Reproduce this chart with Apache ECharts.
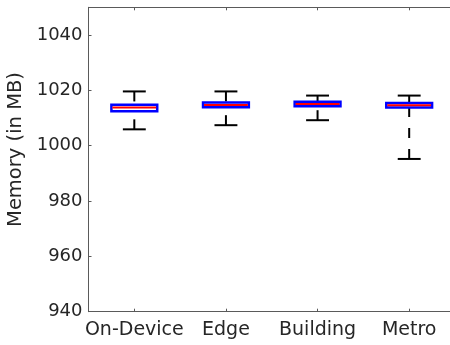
<!DOCTYPE html>
<html>
<head>
<meta charset="utf-8">
<script src="https://cdn.jsdelivr.net/npm/echarts@6/dist/echarts.min.js"></script>
<style>
  html, body { margin: 0; padding: 0; background: #ffffff; }
  #chart { width: 450px; height: 345px; }
</style>
</head>
<body>
<div id="chart"></div>
<script>
// Memory usage per deployment (MB): box plot statistics
const categories = ['On-Device', 'Edge', 'Building', 'Metro'];
const lowerWhisker = [1005.9, 1007.4, 1009.2, 995.2];
const q1 = [1012.4, 1013.9, 1014.2, 1013.8];
const median = [1013.8, 1014.7, 1015.1, 1014.6];
const q3 = [1014.8, 1015.6, 1015.9, 1015.4];
const upperWhisker = [1019.6, 1019.6, 1018.1, 1018.1];
const yTicks = { min: 940, max: 1050, interval: 20 };

const textColor = '#262626';
const axisColor = '#5a5a5a';
const font = 'DejaVu Sans';

const boxData = categories.map((c, i) =>
  [i, lowerWhisker[i], q1[i], median[i], q3[i], upperWhisker[i]]);

function renderBox(params, api) {
  const idx = api.value(0);
  const band = api.size([1, 0])[0];
  const halfBox = band * 0.25;
  const halfCap = band * 0.125;
  const pLo = api.coord([idx, api.value(1)]);
  const pQ1 = api.coord([idx, api.value(2)]);
  const pMed = api.coord([idx, api.value(3)]);
  const pQ3 = api.coord([idx, api.value(4)]);
  const pHi = api.coord([idx, api.value(5)]);
  const x = pMed[0];
  const whiskerStyle = { stroke: '#000000', lineWidth: 2, lineDash: [10, 11], fill: null };
  const capStyle = { stroke: '#000000', lineWidth: 2, fill: null };
  return {
    type: 'group',
    children: [
      // whiskers run from the cap toward the box
      { type: 'line', shape: { x1: x, y1: pHi[1], x2: x, y2: pQ3[1] }, style: whiskerStyle },
      { type: 'line', shape: { x1: x, y1: pLo[1], x2: x, y2: pQ1[1] }, style: whiskerStyle },
      { type: 'line', shape: { x1: x - halfCap, y1: pHi[1], x2: x + halfCap, y2: pHi[1] }, style: capStyle },
      { type: 'line', shape: { x1: x - halfCap, y1: pLo[1], x2: x + halfCap, y2: pLo[1] }, style: capStyle },
      { type: 'rect',
        shape: { x: x - halfBox, y: pQ3[1], width: halfBox * 2, height: pQ1[1] - pQ3[1] },
        style: { fill: '#ffffff', stroke: '#0000ff', lineWidth: 2.5 } },
      { type: 'line', shape: { x1: x - halfBox + 1, y1: pMed[1], x2: x + halfBox - 1, y2: pMed[1] },
        style: { stroke: '#ff0000', lineWidth: 2 } }
    ]
  };
}

const chart = echarts.init(document.getElementById('chart'), null, { renderer: 'canvas' });
chart.setOption({
  animation: false,
  backgroundColor: '#ffffff',
  grid: { left: 88.5, right: -5, top: 7.3, bottom: 33.3, containLabel: false, outerBoundsMode: 'none' },
  xAxis: [
    {
      type: 'category', data: categories, position: 'bottom',
      axisLine: { show: true, lineStyle: { color: axisColor, width: 1 } },
      axisTick: { show: true, inside: true, length: 3, alignWithLabel: true, lineStyle: { color: axisColor } },
      axisLabel: { color: textColor, fontFamily: font, fontSize: 19, margin: 9, interval: 0, hideOverlap: false },
      splitLine: { show: false }
    },
    {
      type: 'category', data: categories, position: 'top',
      axisLine: { show: true, lineStyle: { color: axisColor, width: 1 } },
      axisTick: { show: true, inside: true, length: 3, alignWithLabel: true, lineStyle: { color: axisColor } },
      axisLabel: { show: false },
      splitLine: { show: false }
    }
  ],
  yAxis: {
    type: 'value', min: yTicks.min, max: yTicks.max, interval: yTicks.interval,
    name: 'Memory (in MB)', nameLocation: 'middle', nameGap: 58,
    nameTextStyle: { color: textColor, fontFamily: font, fontSize: 19.5, padding: [0, 0, 0, 20] },
    axisLine: { show: true, lineStyle: { color: axisColor, width: 1 } },
    axisTick: { show: true, inside: true, length: 3, lineStyle: { color: axisColor } },
    axisLabel: {
      color: textColor, fontFamily: font, fontSize: 18, margin: 6, showMaxLabel: false,
      formatter: (v) => String(v)
    },
    splitLine: { show: false }
  },
  series: [{
    type: 'custom',
    renderItem: renderBox,
    encode: { x: 0, y: [1, 2, 3, 4, 5] },
    data: boxData,
    clip: false
  }]
});
</script>
</body>
</html>
